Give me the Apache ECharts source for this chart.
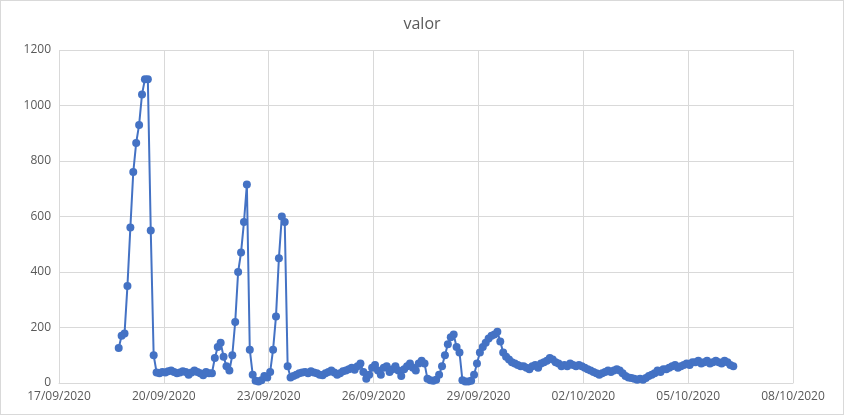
<!DOCTYPE html>
<html><head><meta charset="utf-8">
<script src="https://cdn.jsdelivr.net/npm/echarts@6/dist/echarts.min.js"></script>
<style>html,body{margin:0;padding:0;background:#fff}#c{width:842px;height:413px;border:1px solid #d9d9d9}</style>
</head><body><div id="c"></div>
<script>
// start 18/09/2020 17:00, step 2 hours
const startHour = 41;
const stepHours = 2;
const xTickLabels = ["17/09/2020","20/09/2020","23/09/2020","26/09/2020","29/09/2020","02/10/2020","05/10/2020","08/10/2020"];
const valores = [126,170,178,350,560,760,865,930,1040,1095,1095,550,100,38,
35,40,38,42,45,40,35,38,42,40,30,38,45,40,35,28,40,35,35,
90,130,145,95,60,45,100,220,400,470,580,715,120,30,8,5,10,25,
20,40,120,240,450,600,580,60,20,
25,30,35,38,40,35,42,38,35,30,28,35,40,45,38,30,35,42,45,50,55,48,
60,70,40,15,30,55,65,45,30,55,60,40,50,60,45,25,50,60,70,55,45,70,80,70,15,10,8,12,30,60,100,140,165,175,130,110,10,5,5,8,
30,70,110,130,145,160,170,175,185,150,110,95,85,75,70,65,60,60,55,50,60,65,55,70,75,80,90,85,75,70,60,65,60,70,65,60,65,60,55,50,45,40,35,30,35,40,45,40,45,50,45,35,25,20,18,15,12,15,12,18,25,30,35,45,40,50,50,55,60,65,55,60,65,70,65,75,75,80,70,75,80,70,75,80,75,70,80,75,65,60];
const data = valores.map((v,i)=>[(startHour+stepHours*i)/24, v]);
const chart = echarts.init(document.getElementById('c'));
chart.setOption({
  animation:false,
  title:{text:'valor',left:'center',top:10,textStyle:{fontFamily:'Open Sans',fontWeight:'normal',fontSize:16,color:'#595959'}},
  grid:{left:58,right:50,top:49,bottom:31},
  xAxis:{type:'value',min:0,max:21,interval:3,
    axisLine:{lineStyle:{color:'#d9d9d9'}},axisTick:{show:false},
    axisLabel:{color:'#595959',fontSize:12,fontFamily:'Open Sans',formatter:(v)=>xTickLabels[Math.round(v/3)]},
    splitLine:{show:true,lineStyle:{color:'#d9d9d9'}}},
  yAxis:{type:'value',min:0,max:1200,interval:200,
    axisLine:{show:false},axisTick:{show:false},
    axisLabel:{color:'#595959',fontSize:12,fontFamily:'Open Sans',formatter:(v)=>String(v)},
    splitLine:{lineStyle:{color:'#d9d9d9'}}},
  series:[{type:'line',data:data,symbol:'circle',symbolSize:8,
    lineStyle:{color:'#4472C4',width:2},itemStyle:{color:'#4472C4'}}]
});
</script></body></html>
